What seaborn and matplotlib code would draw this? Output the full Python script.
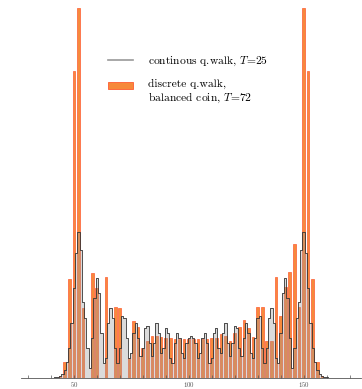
import numpy as np
import pandas as pd
import seaborn as sns
import matplotlib.pyplot as plt
from matplotlib.lines import Line2D
from matplotlib.patches import Patch, Rectangle
from matplotlib.legend_handler import HandlerPatch

# discrete walk (balanced coin, T=72): even sites, heights (arb. units)
disc_pos = list(range(44, 160, 2))
disc_val = [2, 16, 99, 307, 370, 70, 0, 105, 90, 0, 101, 0, 71, 70, 0, 20,
            57, 51, 30, 37, 42, 42, 41, 40, 40, 39, 39, 39, 39, 39, 39, 39,
            39, 40, 40, 44, 42, 37, 45, 51, 58, 50, 41, 71, 71, 37, 37, 101,
            62, 91, 106, 134, 71, 370, 307, 99, 16, 2]

# continuous walk (T=25): every site
cont_pos = list(range(40, 163))
cont_val = [0, 0, 1, 1, 2, 4, 8, 16, 30, 55, 90, 125, 146, 128, 76, 60, 30, 10,
            40, 80, 100, 85, 45, 15, 20, 55, 70, 60, 30, 15, 30, 62, 60, 40, 20,
            25, 45, 55, 40, 22, 30, 50, 52, 35, 22, 35, 55, 45, 25, 30, 50, 45,
            20, 15, 35, 45, 40, 25, 20, 35, 40, 42, 40, 35, 20, 25, 40, 45, 35,
            15, 20, 45, 50, 30, 25, 45, 55, 35, 22, 35, 52, 50, 30, 22, 40, 55,
            45, 25, 20, 40, 60, 62, 30, 15, 30, 60, 70, 55, 20, 15, 45, 85, 100,
            80, 40, 10, 30, 60, 76, 128, 146, 125, 90, 55, 30, 16, 8, 4, 2, 1, 1,
            0, 0]

disc = pd.DataFrame({"site": disc_pos, "p": disc_val})
cont = pd.DataFrame({"site": cont_pos, "p": cont_val})

plt.rcParams["font.family"] = ["cmr10", "DejaVu Serif"]
plt.rcParams["mathtext.fontset"] = "cm"
plt.rcParams["axes.formatter.use_mathtext"] = True

fig = plt.figure(figsize=(3.62, 3.89), dpi=100)
ax = fig.add_axes([21 / 362, 11 / 389, 340 / 362, 373 / 389])

sns.barplot(data=disc, x="site", y="p", native_scale=True, width=0.58,
            color="#f68a3c", edgecolor="#ff5a30", linewidth=0.5,
            saturation=1, ax=ax)
ax.fill_between(cont["site"], cont["p"], step="mid", color="#9a9a9a",
                alpha=0.35, lw=0)
sns.lineplot(data=cont, x="site", y="p", drawstyle="steps-mid",
             color="#333333", lw=0.6, ax=ax)

ax.set_xlim(27, 175)
ax.set_ylim(0, 373)
ax.set_xticks([50, 100, 150])
ax.set_xticks([30, 40, 60, 70, 80, 90, 110, 120, 130, 140, 160, 170], minor=True)
ax.set_yticks([])
ax.set_xlabel("")
ax.set_ylabel("")
for s in ["top", "right", "left"]:
    ax.spines[s].set_visible(False)
ax.spines["bottom"].set_color("#555555")
ax.spines["bottom"].set_linewidth(0.6)
ax.tick_params(axis="x", which="both", direction="in", length=2, width=0.5,
               labelsize=5, pad=1.5, colors="#555555")


def top_patch(legend, orig_handle, xdescent, ydescent, width, height, fontsize):
    # keep the swatch level with the first line of a two-line label
    return Rectangle((-xdescent, -ydescent + 0.62 * fontsize), width, height * 0.85)


handles = [Line2D([], [], color="#999999", lw=1.2),
           Patch(facecolor="#f6893a", edgecolor="#ff5a30", lw=0.6)]
labels = ["continous q.walk, $T$=25", "discrete q.walk,\nbalanced coin, $T$=72"]
ax.legend(handles, labels, frameon=False, fontsize=8.3, loc="upper left",
          bbox_to_anchor=(0.225, 0.895), handlelength=2.2, handletextpad=1.3,
          labelspacing=0.95,
          handler_map={Patch: HandlerPatch(patch_func=top_patch)})

fig.savefig("out.png", dpi=100, facecolor="white")
